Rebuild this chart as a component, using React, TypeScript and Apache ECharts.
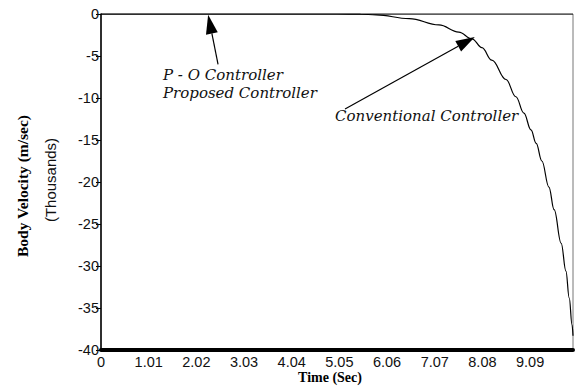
import React, { useEffect, useRef } from "react";
import * as echarts from "echarts";

// Time (s) and body velocity (thousands of m/sec)
const poTime = [0, 2.5, 5, 7.5, 10];
const poValues = [0, 0, 0, 0, 0];

const convTime = [0, 5.0, 5.5, 5.83, 6.53, 7.16, 7.58, 7.86, 8.07, 8.28, 8.58, 8.79, 8.96, 9.11, 9.22, 9.34, 9.49, 9.6, 9.75, 9.85, 9.92, 9.98, 10.0];
const convValues = [0, 0, -0.02, -0.1, -0.55, -1.3, -2.15, -2.95, -4.0, -5.5, -7.8, -9.85, -11.8, -13.8, -15.4, -17.5, -20.6, -23.3, -27.3, -30.6, -33.8, -37.0, -38.3];

const xTickLabels = ["0", "1.01", "2.02", "3.03", "4.04", "5.05", "6.06", "7.07", "8.08", "9.09"];
const yTickLabels = ["0", "-5", "-10", "-15", "-20", "-25", "-30", "-35", "-40"];

const xStep = 10 / 9.9;

// annotation arrows in data coords: [tailT, tailV, tipT, tipV]
const arrowPO = [2.48, -6.0, 2.27, -0.1];
const arrowConv = [5.17, -11.3, 7.92, -2.75];

export default function App() {
  const ref = useRef<HTMLDivElement>(null);
  useEffect(() => {
    if (!ref.current) return;
    const chart = echarts.init(ref.current, null, { renderer: "svg" });
    const sans = "Liberation Sans";
    const serif = "Liberation Serif";
    const annFont = "DejaVu Serif";
    chart.setOption({
      animation: false,
      backgroundColor: "#fff",
      grid: {
        left: 101,
        right: 3,
        top: 14,
        bottom: 37,
        show: true,
        borderColor: "#777",
        borderWidth: 1,
        backgroundColor: "transparent",
      },
      xAxis: {
        type: "value",
        min: 0,
        max: 10,
        interval: xStep,
        splitLine: { show: false },
        axisTick: { show: false },
        axisLine: { show: true, onZero: false, lineStyle: { color: "#000", width: 4 } },
        axisLabel: {
          fontFamily: sans,
          fontSize: 14.5,
          color: "#111",
          margin: 4,
          showMaxLabel: false,
          formatter: (v: number) => xTickLabels[Math.round(v / xStep)] ?? "",
        },
      },
      yAxis: {
        type: "value",
        min: -40,
        max: 0,
        interval: 5,
        splitLine: { show: false },
        axisLine: { show: true, onZero: false, lineStyle: { color: "#000", width: 1.5 } },
        axisTick: { show: true, length: 5, lineStyle: { color: "#000" } },
        axisLabel: {
          fontFamily: sans,
          fontSize: 14.5,
          color: "#111",
          margin: 2,
          formatter: (v: number) => yTickLabels[Math.round(-v / 5)] ?? "",
        },
      },
      series: [
        {
          name: "P - O Controller / Proposed Controller",
          type: "line",
          data: poTime.map((t, i) => [t, poValues[i]]),
          showSymbol: false,
          lineStyle: { color: "#000", width: 1.2 },
          z: 3,
        },
        {
          name: "Conventional Controller",
          type: "line",
          data: convTime.map((t, i) => [t, convValues[i]]),
          showSymbol: false,
          smooth: 0.4,
          smoothMonotone: "x",
          lineStyle: { color: "#000", width: 1.2 },
          z: 4,
        },
      ],
    });

    const arrow = (a: number[]) => {
      const tail = chart.convertToPixel({ gridIndex: 0 }, [a[0], a[1]]) as number[];
      const tip = chart.convertToPixel({ gridIndex: 0 }, [a[2], a[3]]) as number[];
      const dx = tip[0] - tail[0];
      const dy = tip[1] - tail[1];
      const len = Math.sqrt(dx * dx + dy * dy);
      const ux = dx / len;
      const uy = dy / len;
      const headLen = 19;
      const halfW = 6;
      const bx = tip[0] - ux * headLen;
      const by = tip[1] - uy * headLen;
      return [
        {
          type: "line",
          shape: { x1: tail[0], y1: tail[1], x2: bx, y2: by },
          style: { stroke: "#000", lineWidth: 1.2 },
          z: 10,
        },
        {
          type: "polygon",
          shape: {
            points: [
              [tip[0], tip[1]],
              [bx - uy * halfW, by + ux * halfW],
              [bx + uy * halfW, by - ux * halfW],
            ],
          },
          style: { fill: "#000" },
          z: 10,
        },
      ];
    };

    chart.setOption({
      graphic: [
        ...arrow(arrowPO),
        ...arrow(arrowConv),
        {
          type: "text",
          x: 22,
          y: 186,
          rotation: Math.PI / 2,
          style: {
            text: "Body Velocity (m/sec)",
            fontFamily: serif,
            fontWeight: "bold",
            fontSize: 15.5,
            fill: "#000",
            align: "center",
            verticalAlign: "middle",
          },
        },
        {
          type: "text",
          x: 50,
          y: 180,
          rotation: Math.PI / 2,
          style: {
            text: "(Thousands)",
            fontFamily: sans,
            fontSize: 15,
            fill: "#111",
            align: "center",
            verticalAlign: "middle",
          },
        },
        {
          type: "text",
          x: 330,
          y: 377,
          style: {
            text: "Time (Sec)",
            fontFamily: serif,
            fontWeight: "bold",
            fontSize: 14,
            fill: "#000",
            align: "center",
            verticalAlign: "middle",
          },
        },
        {
          type: "text",
          x: 163,
          y: 75,
          style: {
            text: "P - O Controller",
            fontFamily: annFont,
            fontStyle: "italic",
            fontSize: 15,
            fill: "#111",
            verticalAlign: "middle",
          },
        },
        {
          type: "text",
          x: 163,
          y: 93,
          style: {
            text: "Proposed Controller",
            fontFamily: annFont,
            fontStyle: "italic",
            fontSize: 15,
            fill: "#111",
            verticalAlign: "middle",
          },
        },
        {
          type: "text",
          x: 335,
          y: 116,
          style: {
            text: "Conventional Controller",
            fontFamily: annFont,
            fontStyle: "italic",
            fontSize: 15,
            fill: "#111",
            verticalAlign: "middle",
          },
        },
      ],
    });
    return () => chart.dispose();
  }, []);
  return <div ref={ref} style={{ width: 576, height: 387, position: "absolute", left: 0, top: 0 }} />;
}
